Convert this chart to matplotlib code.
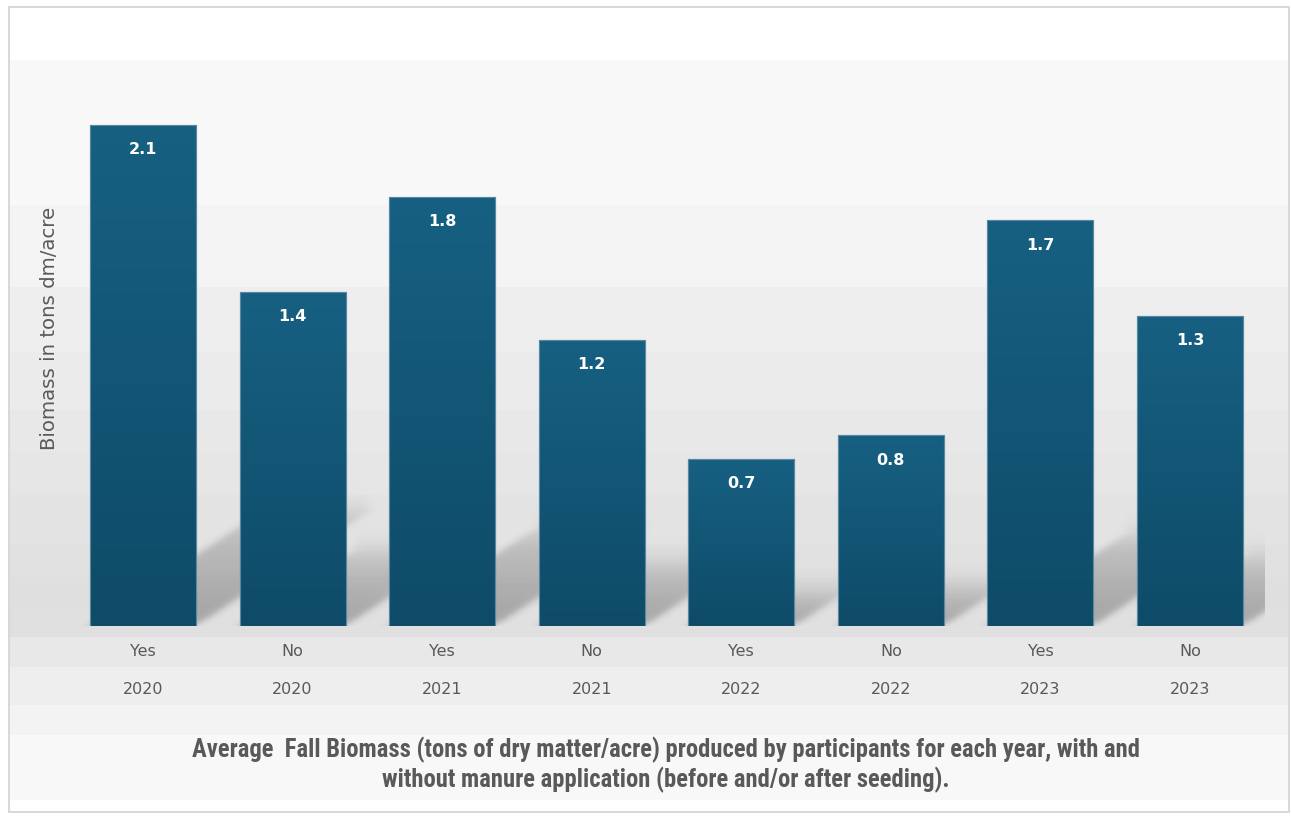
import numpy as np
import matplotlib
matplotlib.use("Agg")
import matplotlib.pyplot as plt
from matplotlib import font_manager
from matplotlib.patches import Rectangle
from matplotlib.colors import to_rgb

# ---- data ----
manure = ["Yes", "No", "Yes", "No", "Yes", "No", "Yes", "No"]
years = ["2020", "2020", "2021", "2021", "2022", "2022", "2023", "2023"]
biomass = [2.1, 1.4, 1.8, 1.2, 0.7, 0.8, 1.7, 1.3]
y_label = "Biomass in tons dm/acre"
caption_lines = [
    "Average  Fall Biomass (tons of dry matter/acre) produced by participants for each year, with and",
    "without manure application (before and/or after seeding).",
]

W, H = 1291, 819
TEXT_GREY = "#595959"
BAR_TOP = to_rgb("#176082")
BAR_BOTTOM = to_rgb("#0e4b68")

installed = {f.name for f in font_manager.fontManager.ttflist}
narrow = next((n for n in ["Liberation Sans Narrow", "Roboto Condensed", "Open Sans Condensed"]
               if n in installed), "DejaVu Sans")

fig = plt.figure(figsize=(W / 100, H / 100), dpi=100)

# ---- background canvas in pixel coordinates (y downward) ----
bg = fig.add_axes([0, 0, 1, 1], zorder=0)
bg.set_xlim(0, W)
bg.set_ylim(H, 0)
bg.axis("off")

band_edges = [60, 205, 287, 352, 410, 452, 495, 545, 577, 608, 637, 667, 705, 735, 800]
band_vals = [0.976, 0.957, 0.937, 0.922, 0.910, 0.902, 0.894, 0.886, 0.875, 0.882,
             0.910, 0.937, 0.953, 0.976]
rows = np.arange(band_edges[0], band_edges[-1]) + 0.5
idx = np.clip(np.searchsorted(band_edges, rows, side="right") - 1, 0, len(band_vals) - 1)
grey = np.array(band_vals)[idx]
bg_img = np.repeat(grey[:, None, None], 3, axis=2)
bg.imshow(bg_img, extent=(9, 1288, band_edges[-1], band_edges[0]), origin="upper",
          aspect="auto", interpolation="nearest", zorder=0)
bg.add_patch(Rectangle((8.5, 6.5), 1280, 805, fill=False, edgecolor="#d6d6d6", lw=1.3, zorder=3))

# ---- main plot area ----
left_px, right_px, top_px, base_px = 10, 1265, 60, 626
ax = fig.add_axes([left_px / W, 1 - base_px / H, (right_px - left_px) / W, (base_px - top_px) / H],
                  zorder=1)
ax.patch.set_visible(False)
step = 149.57
ax.set_xlim((left_px - 143) / step, (right_px - 143) / step)
ax.set_ylim(0, (base_px - top_px) / 238.6)
for s in ax.spines.values():
    s.set_visible(False)
ax.set_xticks([])
ax.set_yticks([])

pos = np.arange(len(biomass))
width = 0.709

# ---- perspective shadows (drawn on the canvas, behind the bars) ----
x_lo, x_hi, y_lo, y_hi = 9, right_px, 380, base_px
X, Y = np.meshgrid(np.arange(x_lo, x_hi) + 0.5, np.arange(y_lo, y_hi) + 0.5)
shade = np.zeros_like(X)


def sig(z):
    return 1.0 / (1.0 + np.exp(-z))


for xi, v in zip(pos, biomass):
    (L, Bu), (R, Tu) = ax.transData.transform([(xi - width / 2, 0), (xi + width / 2, v)])
    B, T = H - Bu, H - Tu
    bh = B - T
    sh, sdx = 0.23 * bh, 0.345 * bh
    up = B - Y
    t = np.clip(up / sh, 0, 1)
    xp = X - t * sdx
    m = sig((xp - L) / 3.5) * sig((R - xp) / 3.5) * sig(up / 3) * sig((sh - up) / 7)
    a = 0.27 * m * (1 - 0.5 * t)
    shade = 1 - (1 - shade) * (1 - a)

shadow_img = np.zeros(X.shape + (4,))
shadow_img[..., 3] = shade
bg.imshow(shadow_img, extent=(x_lo, x_hi, y_hi, y_lo), origin="upper", aspect="auto",
          interpolation="bilinear", zorder=1)
bg.set_xlim(0, W)
bg.set_ylim(H, 0)

# ---- bars with vertical gradient ----
bars = ax.bar(pos, biomass, width=width, color=BAR_BOTTOM, edgecolor="#5a8aa3",
              linewidth=0.8, zorder=2)
grad = np.linspace(0, 1, 256)[:, None, None]
grad_img = np.array(BAR_TOP)[None, None, :] * (1 - grad) + np.array(BAR_BOTTOM)[None, None, :] * grad
for rect, xi, v in zip(bars, pos, biomass):
    im = ax.imshow(grad_img, extent=(xi - width / 2, xi + width / 2, 0, v), origin="upper",
                   aspect="auto", interpolation="bilinear", zorder=2.5)
    im.set_clip_path(rect)
    ax.add_patch(Rectangle((xi - width / 2, 0), width, v, fill=False, edgecolor="#5a8aa3",
                           linewidth=0.8, zorder=3))
ax.set_xlim((left_px - 143) / step, (right_px - 143) / step)
ax.set_ylim(0, (base_px - top_px) / 238.6)

# ---- value labels ----
for xi, v in zip(pos, biomass):
    ax.annotate(f"{v:.1f}", (xi, v), xytext=(0, -25), textcoords="offset pixels",
                ha="center", va="center", color="white", fontsize=11.5,
                fontweight="bold", zorder=4, annotation_clip=False)

# ---- category labels (two rows) ----
for xi, m_lab, yr in zip(pos, manure, years):
    ax.annotate(m_lab, (xi, 0), xytext=(0, -25), textcoords="offset pixels",
                ha="center", va="center", color=TEXT_GREY, fontsize=11.5,
                annotation_clip=False)
    ax.annotate(yr, (xi, 0), xytext=(0, -63), textcoords="offset pixels",
                ha="center", va="center", color=TEXT_GREY, fontsize=11.5,
                annotation_clip=False)

# ---- axis title ----
fig.text(50 / W, 1 - 328 / H, y_label, rotation=90, ha="center", va="center",
         color=TEXT_GREY, fontsize=14.2)

# ---- caption, sized so the first line spans the chart width ----
cap_texts = []
for line, yc in zip(caption_lines, [750, 780]):
    cap_texts.append(fig.text(666 / W, 1 - yc / H, line, ha="center", va="center",
                              color=TEXT_GREY, fontsize=14, fontweight="bold", family=narrow))
fig.canvas.draw()
renderer = fig.canvas.get_renderer()
w0 = cap_texts[0].get_window_extent(renderer).width
size = 14 * 953 / w0
for t in cap_texts:
    t.set_fontsize(size)

fig.savefig("out.png", dpi=100)
